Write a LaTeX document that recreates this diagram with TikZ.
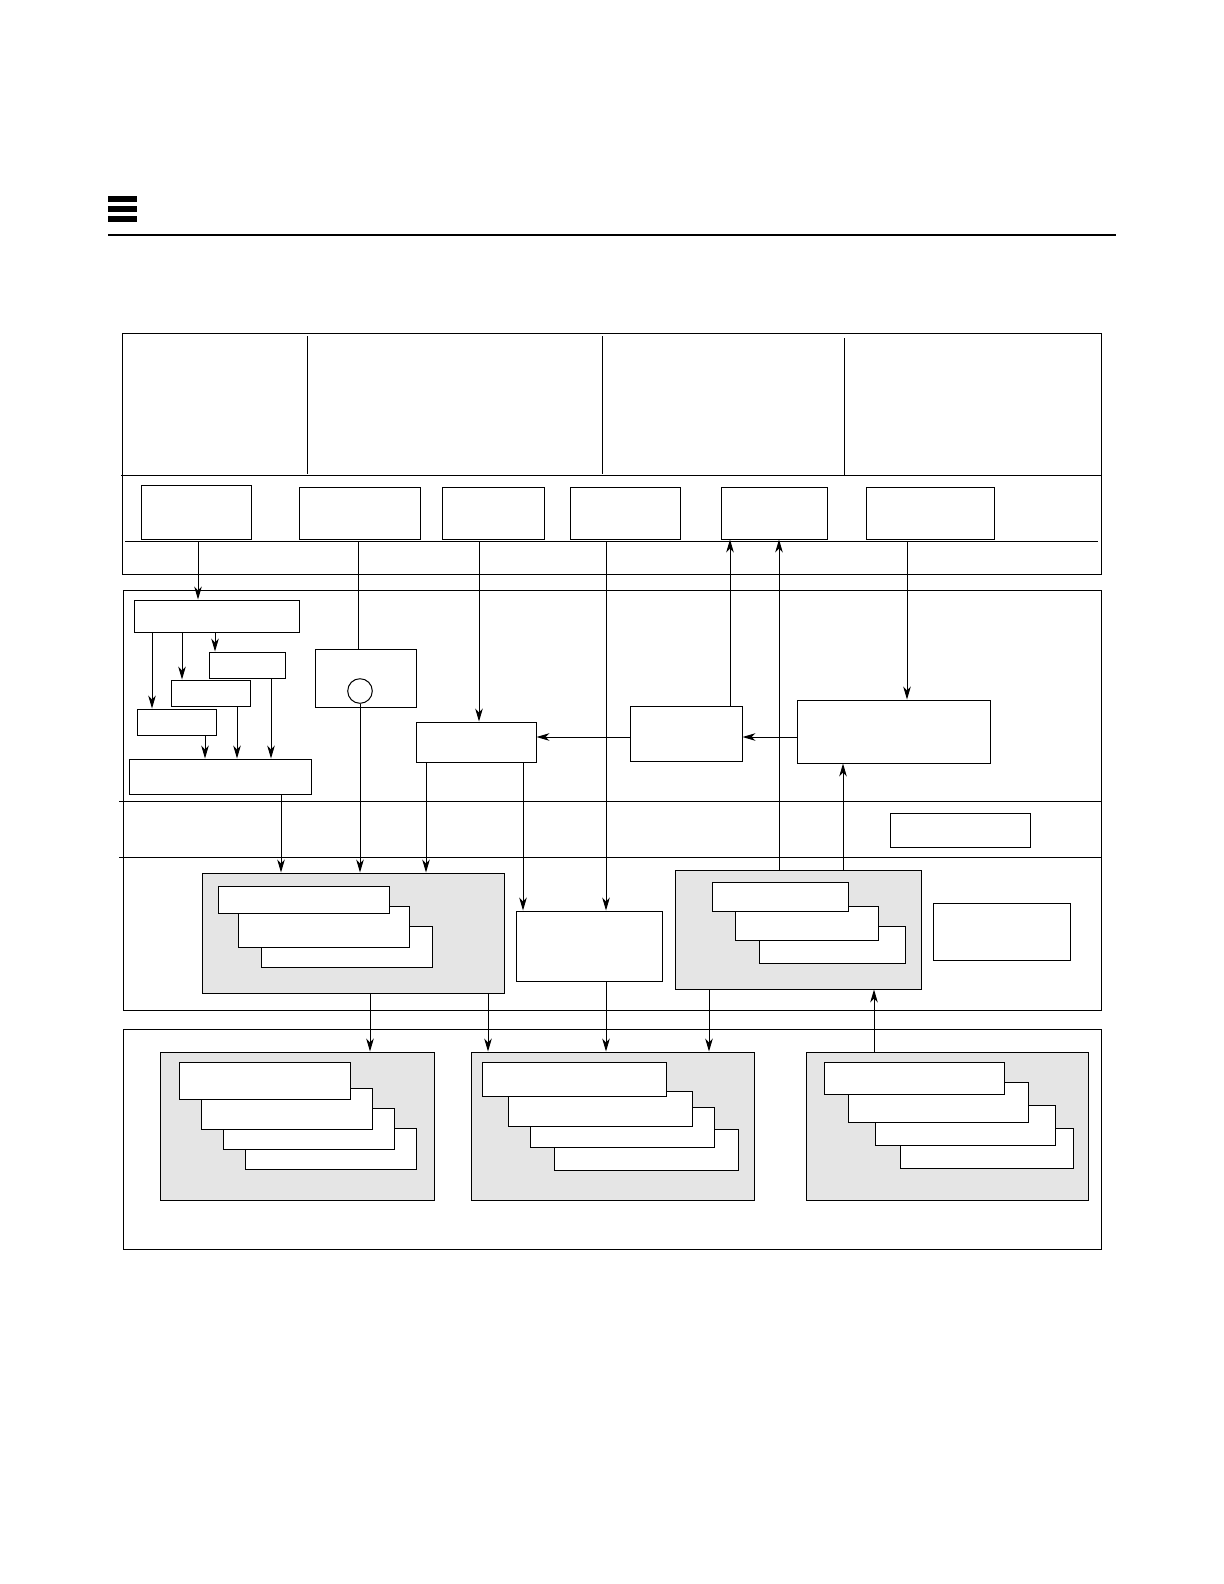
\documentclass[tikz,border=0pt]{standalone}
\usetikzlibrary{arrows.meta, fit}

\begin{document}
\begin{tikzpicture}[
  x=0.5bp, y=-0.5bp,
  blk/.style={draw, line width=0.5pt, fill=white, inner sep=0pt},
  grp/.style={blk, fill=black!10},
  arr/.style={-{Stealth[length=6.5pt, width=3.8pt, inset=2pt]}, line width=0.5pt},
  ln/.style={line width=0.5pt},
]
  \useasboundingbox (0,0) rectangle (1224,1584);

  % page header
  \foreach \y in {196,206,216}
    \fill (108,\y) rectangle (137,\y+6);
  \draw[line width=0.8pt] (108,235) -- (1116,235);

  % top frame
  \node[blk, fit={(122,333) (1101,574)}] (frame1) {};
  \draw[ln] (121,475) -- (1101,475);
  \draw[ln] (125,541) -- (1098,541);
  \draw[ln] (307,336) -- (307,474);
  \draw[ln] (602,336) -- (602,474);
  \draw[ln] (844,338) -- (844,475);
  \coordinate (bus1) at (0,541);

  \node[blk, fit={(141,485) (251,539)}] (t1) {};
  \node[blk, fit={(299,487) (420,539)}] (t2) {};
  \node[blk, fit={(442,487) (544,539)}] (t3) {};
  \node[blk, fit={(570,487) (680,539)}] (t4) {};
  \node[blk, fit={(721,487) (827,539)}] (t5) {};
  \node[blk, fit={(866,487) (994,539)}] (t6) {};

  % middle frame
  \node[blk, fit={(123,590) (1101,1010)}] (frame2) {};
  \draw[ln] (119,801) -- (1101,801);
  \draw[ln] (119,857) -- (1101,857);

  \node[blk, fit={(134,600) (299,632)}] (a1) {};
  \node[blk, fit={(209,652) (285,678)}] (a2) {};
  \node[blk, fit={(171,680) (250,706)}] (a3) {};
  \node[blk, fit={(137,709) (216,735)}] (a4) {};
  \node[blk, fit={(129,759) (311,794)}] (a5) {};
  \node[blk, fit={(315,649) (416,707)}] (cb) {};
  \node[draw, circle, line width=0.5pt, minimum size=12.3bp, inner sep=0pt] (cc) at (360,691) {};
  \node[blk, fit={(416,722) (536,762)}] (g) {};
  \node[blk, fit={(630,706) (742,761)}] (h) {};
  \node[blk, fit={(797,700) (990,763)}] (ib) {};
  \node[blk, fit={(890,813) (1030,847)}] (j) {};
  \coordinate (hy) at (0,737);

  % stacked groups
  \node[grp, fit={(202,873) (504,993)}] (gl) {};
  \node[blk, fit={(261,926) (432,967)}] (gl3) {};
  \node[blk, fit={(238,906) (409,947)}] (gl2) {};
  \node[blk, fit={(218,886) (389,913)}] (gl1) {};
  \node[blk, fit={(516,911) (662,981)}] (m) {};
  \node[grp, fit={(675,870) (921,989)}] (gr) {};
  \node[blk, fit={(759,926) (905,963)}] (gr3) {};
  \node[blk, fit={(735,906) (878,940)}] (gr2) {};
  \node[blk, fit={(712,882) (848,911)}] (gr1) {};
  \node[blk, fit={(933,903) (1070,960)}] (k) {};

  % bottom frame
  \node[blk, fit={(123,1029) (1101,1249)}] (frame3) {};

  \node[grp, fit={(160,1052) (434,1200)}] (b1) {};
  \node[blk, fit={(245,1128) (416,1169)}] (b14) {};
  \node[blk, fit={(223,1108) (394,1149)}] (b13) {};
  \node[blk, fit={(201,1088) (372,1129)}] (b12) {};
  \node[blk, fit={(179,1062) (350,1099)}] (b11) {};

  \node[grp, fit={(471,1052) (754,1200)}] (b2) {};
  \node[blk, fit={(554,1129) (738,1170)}] (b24) {};
  \node[blk, fit={(530,1107) (714,1147)}] (b23) {};
  \node[blk, fit={(508,1091) (692,1126)}] (b22) {};
  \node[blk, fit={(482,1062) (666,1096)}] (b21) {};

  \node[grp, fit={(806,1052) (1088,1200)}] (b3) {};
  \node[blk, fit={(900,1128) (1073,1168)}] (b34) {};
  \node[blk, fit={(875,1105) (1055,1145)}] (b33) {};
  \node[blk, fit={(848,1082) (1028,1122)}] (b32) {};
  \node[blk, fit={(824,1062) (1004,1094)}] (b31) {};

  % connectors, top row down
  \draw[arr] (198,0 |- bus1) -- (198,0 |- a1.north);
  \draw[ln]  (358,0 |- bus1) -- (358,0 |- cb.north);
  \draw[arr] (479,0 |- bus1) -- (479,0 |- g.north);
  \draw[arr] (606,0 |- bus1) -- (606,0 |- m.north);
  \draw[arr] (907,0 |- bus1) -- (907,0 |- ib.north);

  % connectors, up to top row
  \draw[arr] (730,0 |- h.north) -- (730,0 |- t5.south);
  \draw[arr] (779,0 |- gr.north) -- (779,0 |- t5.south);

  % left cluster
  \draw[arr] (152,0 |- a1.south) -- (152,0 |- a4.north);
  \draw[arr] (182,0 |- a1.south) -- (182,0 |- a3.north);
  \draw[arr] (215,0 |- a1.south) -- (215,0 |- a2.north);
  \draw[arr] (205,0 |- a4.south) -- (205,0 |- a5.north);
  \draw[arr] (237,0 |- a3.south) -- (237,0 |- a5.north);
  \draw[arr] (271,0 |- a2.south) -- (271,0 |- a5.north);
  \draw[arr] (281,0 |- a5.south) -- (281,0 |- gl.north);
  \draw[arr] (cc.south) -- (cc.south |- gl.north);

  % middle
  \draw[arr] (426,0 |- g.south) -- (426,0 |- gl.north);
  \draw[arr] (523,0 |- g.south) -- (523,0 |- m.north);
  \draw[arr] (h.west |- hy) -- (g.east |- hy);
  \draw[arr] (ib.west |- hy) -- (h.east |- hy);
  \draw[arr] (843,0 |- gr.north) -- (843,0 |- ib.south);

  % down to bottom frame
  \draw[arr] (370,0 |- gl.south) -- (370,0 |- b1.north);
  \draw[arr] (488,0 |- gl.south) -- (488,0 |- b2.north);
  \draw[arr] (606,0 |- m.south) -- (606,0 |- b2.north);
  \draw[arr] (709,0 |- gr.south) -- (709,0 |- b2.north);
  \draw[arr] (874,0 |- b3.north) -- (874,0 |- gr.south);
\end{tikzpicture}
\end{document}
